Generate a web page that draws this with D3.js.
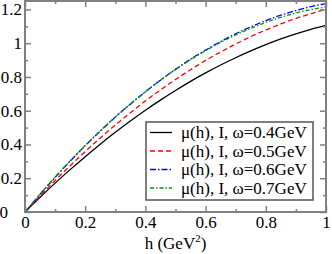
<!DOCTYPE html>
<html>
<head>
<meta charset="utf-8">
<script src="https://cdn.jsdelivr.net/npm/d3@7"></script>
<style>
  body { margin: 0; background: #fff; }
  svg { display: block; }
</style>
</head>
<body>
<div id="chart"></div>
<script>
// data
var hValues = [0, 0.05, 0.1, 0.15, 0.2, 0.25, 0.3, 0.35, 0.4, 0.45, 0.5,
               0.55, 0.6, 0.65, 0.7, 0.75, 0.8, 0.85, 0.9, 0.95, 1];
var mu04 = [0, 0.087, 0.171, 0.251, 0.328, 0.402, 0.472, 0.539, 0.603, 0.663, 0.720,
            0.774, 0.824, 0.871, 0.914, 0.954, 0.991, 1.025, 1.055, 1.082, 1.105];
var mu05 = [0, 0.095, 0.187, 0.274, 0.358, 0.439, 0.515, 0.588, 0.658, 0.723, 0.785,
            0.843, 0.898, 0.948, 0.995, 1.039, 1.078, 1.114, 1.147, 1.175, 1.200];
var mu06 = [0, 0.105, 0.205, 0.301, 0.393, 0.479, 0.562, 0.639, 0.712, 0.781, 0.845,
            0.905, 0.959, 1.010, 1.056, 1.097, 1.134, 1.166, 1.193, 1.217, 1.235];
var mu07 = [0, 0.106, 0.207, 0.303, 0.394, 0.481, 0.563, 0.640, 0.713, 0.781, 0.844,
            0.902, 0.956, 1.005, 1.049, 1.088, 1.123, 1.153, 1.179, 1.199, 1.215];
var seriesLabels = ["μ(h), I, ω=0.4GeV", "μ(h), I, ω=0.5GeV",
                    "μ(h), I, ω=0.6GeV", "μ(h), I, ω=0.7GeV"];
var xTicks = [0, 0.2, 0.4, 0.6, 0.8, 1];
var yTicks = [0, 0.2, 0.4, 0.6, 0.8, 1, 1.2];
var xMinor = [0.1, 0.3, 0.5, 0.7, 0.9];
var yMinor = [0.1, 0.3, 0.5, 0.7, 0.9, 1.1];

var svgWidth = 332;
var svgHeight = 254;
var plotLeft = 25, plotRight = 326, plotTop = 1, plotBottom = 212;

var series = [
    { values: mu04, color: "#000000", dash: null },
    { values: mu05, color: "#ff0000", dash: "5,3" },
    { values: mu06, color: "#0000ff", dash: "6,2,1.5,2" },
    { values: mu07, color: "#009900", dash: "4,2,1.5,2" }
];

var svg = d3.select("#chart")
    .append("svg")
    .attr("width", svgWidth)
    .attr("height", svgHeight);

var xScale = d3.scaleLinear().domain([0, 1]).range([plotLeft, plotRight]);
var yScale = d3.scaleLinear().domain([0, 1.25]).range([plotBottom, plotTop]);

var font = "'Liberation Serif', 'Times New Roman', serif";
var frameColor = "#808080";

// curves
var line = d3.line()
    .x(function (d, i) { return xScale(hValues[i]); })
    .y(function (d) { return yScale(d); })
    .curve(d3.curveMonotoneX);

series.forEach(function (s) {
    svg.append("path")
        .datum(s.values)
        .attr("d", line)
        .attr("fill", "none")
        .attr("stroke", s.color)
        .attr("stroke-width", 1.3)
        .attr("stroke-dasharray", s.dash);
});

// axes: major + minor, inward ticks on all four sides
function styleAxis(g) {
    g.select(".domain").remove();
    g.selectAll(".tick line").attr("stroke", frameColor).attr("stroke-width", 1.5);
    g.selectAll("text")
        .attr("font-family", font)
        .attr("font-size", "17px")
        .attr("fill", "#000");
}

svg.append("g")
    .attr("transform", "translate(0," + plotBottom + ")")
    .call(d3.axisBottom(xScale).tickValues(xTicks).tickSize(-6).tickPadding(4)
        .tickFormat(d3.format("")))
    .call(styleAxis);
svg.append("g")
    .attr("transform", "translate(0," + plotBottom + ")")
    .call(d3.axisBottom(xScale).tickValues(xMinor).tickSize(-3).tickFormat(""))
    .call(styleAxis);
svg.append("g")
    .attr("transform", "translate(0," + plotTop + ")")
    .call(d3.axisTop(xScale).tickValues(xTicks).tickSize(-6).tickFormat(""))
    .call(styleAxis);
svg.append("g")
    .attr("transform", "translate(0," + plotTop + ")")
    .call(d3.axisTop(xScale).tickValues(xMinor).tickSize(-3).tickFormat(""))
    .call(styleAxis);

var yAxisG = svg.append("g")
    .attr("transform", "translate(" + plotLeft + ",0)")
    .call(d3.axisLeft(yScale).tickValues(yTicks).tickSize(-6).tickPadding(3)
        .tickFormat(d3.format("")))
    .call(styleAxis);
// the zero label on y sits further left
yAxisG.selectAll(".tick text").filter(function (d) { return d === 0; })
    .attr("x", -17);

svg.append("g")
    .attr("transform", "translate(" + plotLeft + ",0)")
    .call(d3.axisLeft(yScale).tickValues(yMinor).tickSize(-3).tickFormat(""))
    .call(styleAxis);
svg.append("g")
    .attr("transform", "translate(" + plotRight + ",0)")
    .call(d3.axisRight(yScale).tickValues(yTicks).tickSize(-6).tickFormat(""))
    .call(styleAxis);
svg.append("g")
    .attr("transform", "translate(" + plotRight + ",0)")
    .call(d3.axisRight(yScale).tickValues(yMinor).tickSize(-3).tickFormat(""))
    .call(styleAxis);

// frame
svg.append("rect")
    .attr("x", plotLeft)
    .attr("y", plotTop)
    .attr("width", plotRight - plotLeft)
    .attr("height", plotBottom - plotTop)
    .attr("fill", "none")
    .attr("stroke", frameColor)
    .attr("stroke-width", 2);

// x title
var xTitle = svg.append("text")
    .attr("x", (plotLeft + plotRight) / 2)
    .attr("y", 249)
    .attr("text-anchor", "middle")
    .attr("font-family", font)
    .attr("font-size", "17px");
xTitle.append("tspan").text("h (GeV");
xTitle.append("tspan").attr("dy", -7).attr("font-size", "11px").text("2");
xTitle.append("tspan").attr("dy", 7).text(")");

// legend
var legend = svg.append("g");
legend.append("rect")
    .attr("x", 146)
    .attr("y", 122)
    .attr("width", 167)
    .attr("height", 78)
    .attr("fill", "#fff")
    .attr("stroke", "#555")
    .attr("stroke-width", 1.5);

series.forEach(function (s, i) {
    var yy = 132.5 + i * 18.5;
    legend.append("line")
        .attr("x1", 150).attr("x2", 172)
        .attr("y1", yy).attr("y2", yy)
        .attr("stroke", s.color)
        .attr("stroke-width", 1.3)
        .attr("stroke-dasharray", s.dash);
    legend.append("text")
        .attr("x", 181)
        .attr("y", yy + 5.5)
        .attr("font-family", font)
        .attr("font-size", "17px")
        .text(seriesLabels[i]);
});
</script>
</body>
</html>
